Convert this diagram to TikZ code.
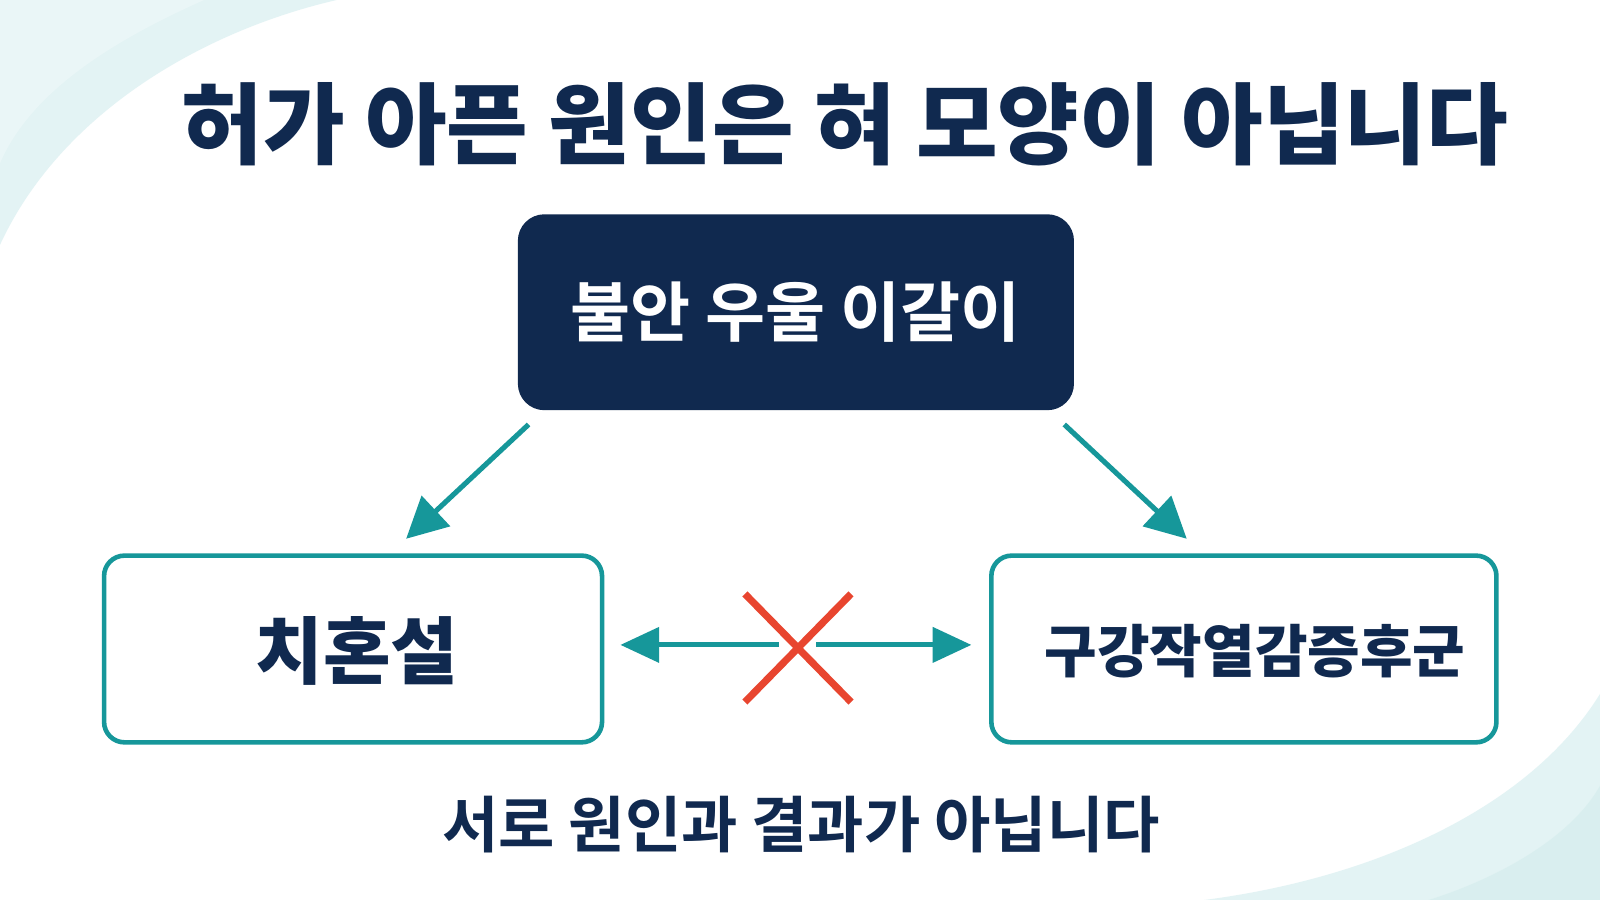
\documentclass[tikz,border=0pt]{standalone}
\usepackage{fontspec}
\setmainfont{Noto Sans CJK KR}[BoldFont={* Black}]
\newfontfamily\kb{Noto Sans CJK KR Bold}
\usetikzlibrary{arrows.meta}
\definecolor{navy}{HTML}{10294F}
\definecolor{teal}{HTML}{16979A}
\definecolor{xred}{HTML}{E8452F}
\definecolor{pale}{HTML}{D8EFF0}
\begin{document}
\begin{tikzpicture}[x=1pt,y=-1pt,
  outbox/.style={draw=teal,line width=4.5pt,rounded corners=20pt,fill=white},
  arr/.style={teal,line width=5pt,-{Triangle[length=40pt,width=40pt]}},
  darr/.style={teal,line width=5pt,{Triangle[length=38pt,width=34pt]}-{Triangle[length=38pt,width=34pt]}}]
\useasboundingbox (0,0) rectangle (1568,882);
\fill[white] (0,0) rectangle (1568,882);
% decorative corners
\fill[pale,opacity=0.7] (0,0) -- (330,0) .. controls (200,30) and (60,110) .. (0,240) -- cycle;
\fill[pale!50,opacity=0.8] (0,0) -- (200,0) .. controls (110,40) and (30,90) .. (0,160) -- cycle;
\fill[pale,opacity=0.7] (1568,882) -- (1180,882) .. controls (1350,860) and (1500,790) .. (1568,680) -- cycle;
\fill[pale!60!teal!40,opacity=0.5] (1568,882) -- (1400,882) .. controls (1470,860) and (1540,820) .. (1568,770) -- cycle;
% title
\node[navy,font=\bfseries\fontsize{87}{93}\selectfont] (title) at (828,122) {허가 아픈 원인은 혀 모양이 아닙니다};
% top box
\node[fill=navy,rounded corners=26pt,minimum width=545pt,minimum height=192pt,text=white,font=\kb\fontsize{64}{70}\selectfont] (top) at (780,306) {불안 우울 이갈이};
\node[outbox,minimum width=488pt,minimum height=183pt] (left) at (346,636) {};
\node[outbox,minimum width=495pt,minimum height=183pt] (right) at (1219,636) {};
\node[text=navy,font=\bfseries\fontsize{72}{78}\selectfont] (ltext) at (350,638) {치혼설};
\node[text=navy,font=\bfseries\fontsize{56}{62}\selectfont] (rtext) at (1230,638) {구강작열감증후군};
\coordinate (a1) at (518,416); \coordinate (a2) at (398,528);
\coordinate (b1) at (1043,416); \coordinate (b2) at (1163,528);
\draw[arr] (a1) -- (a2);
\draw[arr] (b1) -- (b2);
\coordinate (d1) at (608,632); \coordinate (d2) at (952,632);
\draw[darr] (d1) -- (d2);
\coordinate (x1) at (730,582); \coordinate (x2) at (834,688);
\coordinate (x3) at (834,582); \coordinate (x4) at (730,688);
\draw[white,line width=18pt] (763,632) -- (800,632);
\draw[xred,line width=7pt] (x1) -- (x2) (x3) -- (x4);
\node[navy,font=\kb\fontsize{60}{66}\selectfont] (bottom) at (785,808) {서로 원인과 결과가 아닙니다};
\end{tikzpicture}
\end{document}
